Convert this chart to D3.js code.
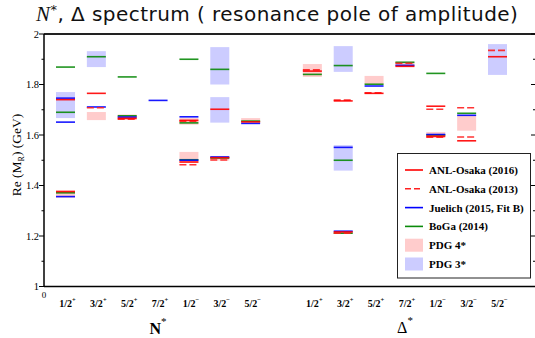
<!DOCTYPE html>
<html>
<head>
<meta charset="utf-8">
<script src="https://cdn.jsdelivr.net/npm/d3@7"></script>
<style>
  body { margin: 0; background: #fff; }
  svg { display: block; }
  .serif { font-family: "Liberation Serif", "DejaVu Serif", serif; }
</style>
</head>
<body>
<div id="chartBox"></div>
<script>
// spin-parity categories for N* and Delta
var nCats = ["1/2+", "3/2+", "5/2+", "7/2+", "1/2-", "3/2-", "5/2-"];
var dCats = ["1/2+", "3/2+", "5/2+", "7/2+", "1/2-", "3/2-", "5/2-"];
var yTicks = [1, 1.2, 1.4, 1.6, 1.8, 2];

// pole masses (GeV), [category, Re M]
var anl2016 = [
  ["N 1/2+", 1.376], ["N 1/2+", 1.740], ["N 3/2+", 1.765], ["N 5/2+", 1.666],
  ["N 1/2-", 1.493], ["N 1/2-", 1.658], ["N 3/2-", 1.510], ["N 3/2-", 1.702],
  ["N 5/2-", 1.652],
  ["D 1/2+", 1.853], ["D 3/2+", 1.216], ["D 3/2+", 1.735], ["D 5/2+", 1.765],
  ["D 7/2+", 1.872], ["D 1/2-", 1.595], ["D 1/2-", 1.714], ["D 3/2-", 1.577],
  ["D 5/2-", 1.910]
];
var anl2013 = [
  ["N 3/2+", 1.708], ["N 5/2+", 1.663], ["N 1/2-", 1.482], ["N 1/2-", 1.655],
  ["N 3/2-", 1.501],
  ["D 1/2+", 1.858], ["D 3/2+", 1.211], ["D 3/2+", 1.738], ["D 5/2+", 1.767],
  ["D 7/2+", 1.884], ["D 1/2-", 1.591], ["D 1/2-", 1.702], ["D 3/2-", 1.592],
  ["D 3/2-", 1.708], ["D 5/2-", 1.935]
];
var juelich = [
  ["N 1/2+", 1.356], ["N 1/2+", 1.651], ["N 1/2+", 1.746], ["N 3/2+", 1.711],
  ["N 5/2+", 1.671], ["N 7/2+", 1.737], ["N 1/2-", 1.500], ["N 1/2-", 1.672],
  ["N 3/2-", 1.513], ["N 5/2-", 1.646],
  ["D 3/2+", 1.219], ["D 3/2+", 1.551], ["D 5/2+", 1.794], ["D 7/2+", 1.876],
  ["D 1/2-", 1.602], ["D 3/2-", 1.678]
];
var boga = [
  ["N 1/2+", 1.371], ["N 1/2+", 1.690], ["N 1/2+", 1.869], ["N 3/2+", 1.910],
  ["N 5/2+", 1.676], ["N 5/2+", 1.830], ["N 1/2-", 1.502], ["N 1/2-", 1.648],
  ["N 1/2-", 1.900], ["N 3/2-", 1.509], ["N 3/2-", 1.860], ["N 5/2-", 1.655],
  ["D 1/2+", 1.840], ["D 3/2+", 1.211], ["D 3/2+", 1.500], ["D 3/2+", 1.875],
  ["D 5/2+", 1.801], ["D 7/2+", 1.888], ["D 1/2-", 1.600], ["D 1/2-", 1.844],
  ["D 3/2-", 1.686]
];
// PDG ranges, [category, low, high]
var pdg4 = [
  ["N 1/2+", 1.352, 1.381], ["N 3/2+", 1.659, 1.691], ["N 5/2+", 1.660, 1.681],
  ["N 1/2-", 1.489, 1.533], ["N 1/2-", 1.641, 1.667], ["N 3/2-", 1.499, 1.517],
  ["N 5/2-", 1.650, 1.667],
  ["D 1/2+", 1.830, 1.881], ["D 3/2+", 1.209, 1.214], ["D 5/2+", 1.802, 1.834],
  ["D 7/2+", 1.870, 1.890], ["D 1/2-", 1.588, 1.612], ["D 3/2-", 1.617, 1.678]
];
var pdg3 = [
  ["N 1/2+", 1.667, 1.770], ["N 3/2+", 1.869, 1.932], ["N 3/2-", 1.649, 1.750],
  ["N 3/2-", 1.800, 1.948],
  ["D 3/2+", 1.459, 1.560], ["D 3/2+", 1.850, 1.952], ["D 5/2-", 1.838, 1.960]
];

var width = 535, height = 338;
var plotLeft = 44, plotRight = 535, plotTop = 34, plotBottom = 286.5;

var svg = d3.select('#chartBox').append('svg')
    .attr('width', width)
    .attr('height', height);

// slot index: N* 0..6, gap of two, Delta 8..14
function slot(key) {
    var p = key.split(' ');
    return p[0] == 'N' ? nCats.indexOf(p[1]) : 8 + dCats.indexOf(p[1]);
}

var x = d3.scaleLinear().domain([0, 14]).range([65.5, 497.5]);
var y = d3.scaleLinear().domain([1, 2]).range([plotBottom, plotTop]);
var half = 9.5;

// title
var title = svg.append('text')
    .attr('x', 36)
    .attr('y', 21)
    .style('font-family', '"DejaVu Sans", sans-serif')
    .style('font-size', '20px')
    .style('letter-spacing', '0.45px')
    .style('fill', '#111');
title.append('tspan').text('N').attr('class', 'serif').style('font-style', 'italic').style('font-size', '21px');
title.append('tspan').text('*').attr('dy', -7).style('font-size', '13px');
title.append('tspan').text(', \u0394 spectrum ( resonance pole of amplitude)')
    .attr('dy', 7);

// PDG boxes
svg.append('g').selectAll('rect')
    .data(pdg4)
    .enter()
    .append('rect')
    .attr('x', function(d) { return x(slot(d[0])) - half; })
    .attr('width', half * 2)
    .attr('y', function(d) { return y(d[2]); })
    .attr('height', function(d) { return y(d[1]) - y(d[2]); })
    .attr('fill', '#ffcccc');

svg.append('g').selectAll('rect')
    .data(pdg3)
    .enter()
    .append('rect')
    .attr('x', function(d) { return x(slot(d[0])) - half; })
    .attr('width', half * 2)
    .attr('y', function(d) { return y(d[2]); })
    .attr('height', function(d) { return y(d[1]) - y(d[2]); })
    .attr('fill', '#ccccff');

function drawLines(data, color, dash) {
    svg.append('g').selectAll('line')
        .data(data)
        .enter()
        .append('line')
        .attr('x1', function(d) { return x(slot(d[0])) - half; })
        .attr('x2', function(d) { return x(slot(d[0])) + half; })
        .attr('y1', function(d) { return y(d[1]); })
        .attr('y2', function(d) { return y(d[1]); })
        .attr('stroke', color)
        .attr('stroke-width', 1.6)
        .attr('stroke-dasharray', dash || null)
        .attr('opacity', 0.9);
}
drawLines(boga, '#0a8a0a');
drawLines(juelich, '#0000ff');
drawLines(anl2013, '#ff2020', '7,3');
drawLines(anl2016, '#ff0000');

// frame
var frame = svg.append('g');
frame.append('line').attr('x1', plotLeft).attr('x2', plotRight).attr('y1', plotTop).attr('y2', plotTop)
    .attr('stroke', '#222').attr('stroke-width', 1.8);
frame.append('line').attr('x1', plotLeft).attr('x2', plotRight).attr('y1', plotBottom).attr('y2', plotBottom)
    .attr('stroke', '#000').attr('stroke-width', 1.5);
frame.append('line').attr('x1', plotLeft).attr('x2', plotLeft).attr('y1', plotTop).attr('y2', plotBottom)
    .attr('stroke', '#000').attr('stroke-width', 1.5);

// y ticks, left outward and right inward
var minor = [1.1, 1.3, 1.5, 1.7, 1.9];
frame.selectAll('.maj').data(yTicks).enter().append('line')
    .attr('x1', plotLeft - 5).attr('x2', plotLeft)
    .attr('y1', function(d) { return y(d); }).attr('y2', function(d) { return y(d); })
    .attr('stroke', '#000').attr('stroke-width', 1);
frame.selectAll('.min').data(minor).enter().append('line')
    .attr('x1', plotLeft - 2.5).attr('x2', plotLeft)
    .attr('y1', function(d) { return y(d); }).attr('y2', function(d) { return y(d); })
    .attr('stroke', '#000').attr('stroke-width', 1);
frame.selectAll('.rmaj').data(yTicks).enter().append('line')
    .attr('x1', plotRight - 4).attr('x2', plotRight)
    .attr('y1', function(d) { return y(d); }).attr('y2', function(d) { return y(d); })
    .attr('stroke', '#000').attr('stroke-width', 1);
frame.selectAll('.rmin').data(minor).enter().append('line')
    .attr('x1', plotRight - 2).attr('x2', plotRight)
    .attr('y1', function(d) { return y(d); }).attr('y2', function(d) { return y(d); })
    .attr('stroke', '#000').attr('stroke-width', 1);

frame.selectAll('.ylab').data(yTicks).enter().append('text')
    .attr('class', 'serif')
    .attr('x', 39)
    .attr('y', function(d) { return y(d) + 3.5; })
    .attr('text-anchor', 'end')
    .style('font-size', '10.5px')
    .text(function(d) { return d == 1 || d == 2 ? d : d.toFixed(1); });

svg.append('text').attr('class', 'serif')
    .attr('x', 44).attr('y', 298)
    .attr('text-anchor', 'middle')
    .style('font-size', '9px')
    .text('0');

// y label
var ylab = svg.append('text').attr('class', 'serif')
    .attr('transform', 'translate(21,155) rotate(-90)')
    .attr('text-anchor', 'middle')
    .style('font-size', '13.5px');
ylab.append('tspan').text('Re (M');
ylab.append('tspan').text('R').attr('dy', 3).style('font-size', '8px');
ylab.append('tspan').text(') (GeV)').attr('dy', -3);

// category labels
var cats = nCats.map(function(c) { return 'N ' + c; }).concat(dCats.map(function(c) { return 'D ' + c; }));
var catText = svg.append('g').selectAll('text')
    .data(cats)
    .enter()
    .append('text')
    .attr('class', 'serif')
    .attr('x', function(d) { return x(slot(d)) + 2; })
    .attr('y', 307)
    .attr('text-anchor', 'middle')
    .style('font-size', '10px')
    .style('font-weight', 'bold');
catText.append('tspan').text(function(d) { return d.split(' ')[1].slice(0, 3); });
catText.append('tspan')
    .attr('dy', -5)
    .style('font-size', '6.5px')
    .text(function(d) { return d.slice(-1) == '+' ? '+' : '\u2212'; });

// group labels
var gN = svg.append('text').attr('class', 'serif')
    .attr('x', 158).attr('y', 334)
    .attr('text-anchor', 'middle')
    .style('font-size', '16px').style('font-weight', 'bold');
gN.append('tspan').text('N');
gN.append('tspan').text('*').attr('dy', -9).style('font-size', '11px').style('font-weight', 'normal');
var gD = svg.append('text').attr('class', 'serif')
    .attr('x', 405).attr('y', 333)
    .attr('text-anchor', 'middle')
    .style('font-size', '16px');
gD.append('tspan').text('\u0394');
gD.append('tspan').text('*').attr('dy', -9).style('font-size', '11px');

// legend
var legendItems = [
    {name: 'ANL-Osaka (2016)', color: '#ff0000', type: 'line'},
    {name: 'ANL-Osaka (2013)', color: '#ff2020', type: 'dash'},
    {name: 'Juelich (2015, Fit B)', color: '#0000ff', type: 'line'},
    {name: 'BoGa (2014)', color: '#0a8a0a', type: 'line'},
    {name: 'PDG 4*', color: '#ffcccc', type: 'box'},
    {name: 'PDG 3*', color: '#ccccff', type: 'box'}
];
var lg = svg.append('g');
lg.append('rect')
    .attr('x', 397.5).attr('y', 153.5)
    .attr('width', 133).attr('height', 124.5)
    .attr('fill', '#fff')
    .attr('stroke', '#222')
    .attr('stroke-width', 1);
var row = lg.selectAll('g.row')
    .data(legendItems)
    .enter()
    .append('g')
    .attr('transform', function(d, i) { return 'translate(0,' + (170 + i * 18.8) + ')'; });
row.filter(function(d) { return d.type != 'box'; })
    .append('line')
    .attr('x1', 405).attr('x2', 423)
    .attr('stroke', function(d) { return d.color; })
    .attr('stroke-width', 1.6)
    .attr('stroke-dasharray', function(d) { return d.type == 'dash' ? '6,3' : null; });
row.filter(function(d) { return d.type == 'box'; })
    .append('rect')
    .attr('x', 405).attr('y', -6.5)
    .attr('width', 18).attr('height', 13)
    .attr('fill', function(d) { return d.color; });
row.append('text')
    .attr('class', 'serif')
    .attr('x', 429).attr('y', 4)
    .style('font-size', '11px')
    .style('font-weight', 'bold')
    .text(function(d) { return d.name; });
</script>
</body>
</html>
